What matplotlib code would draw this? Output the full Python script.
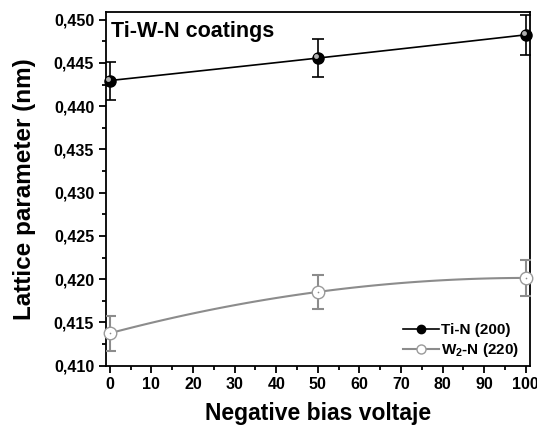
import numpy as np
import matplotlib
matplotlib.use('Agg')
import matplotlib.pyplot as plt
import matplotlib.transforms as mtransforms
from matplotlib.ticker import MultipleLocator, FuncFormatter
from matplotlib.lines import Line2D
from matplotlib.legend_handler import HandlerTuple

plt.rcParams['font.family'] = ['Liberation Sans', 'DejaVu Sans']
plt.rcParams['font.weight'] = 'bold'
plt.rcParams['mathtext.fontset'] = 'custom'
plt.rcParams['mathtext.rm'] = 'Liberation Sans:bold'
plt.rcParams['mathtext.bf'] = 'Liberation Sans:bold'
plt.rcParams['mathtext.it'] = 'Liberation Sans:bold'

# data
bias = [0, 50, 100]
tin = [0.44297, 0.44557, 0.44826]
tin_err = [0.0022, 0.0022, 0.0023]
w2n = [0.41374, 0.41852, 0.42014]
w2n_err = [0.0020, 0.0020, 0.0021]
labels = ['Ti-N (200)', r'W$_{2}$-N (220)']

fig = plt.figure(figsize=(5.37, 4.25), dpi=100)
ax = fig.add_axes([0.1974, 0.1398, 0.7896, 0.832])

# smooth guide lines through the three points
xs = np.linspace(0, 100, 100)
ax.plot(xs, np.polyval(np.polyfit(bias, tin, 2), xs), color='black', lw=1.2, zorder=2)
ax.plot(xs, np.polyval(np.polyfit(bias, w2n, 2), xs), color='#8c8c8c', lw=1.5, zorder=2)

ax.errorbar(bias, tin, yerr=tin_err, fmt='none', ecolor='black', elinewidth=1.2,
            capsize=4, capthick=1.2, zorder=3)
ax.errorbar(bias, w2n, yerr=w2n_err, fmt='none', ecolor='#8c8c8c', elinewidth=1.5,
            capsize=4, capthick=1.5, zorder=3)

# shaded sphere for Ti-N
ax.plot(bias, tin, 'o', ms=8, mfc='black', mec='black', zorder=4, clip_on=False)
hl = mtransforms.offset_copy(ax.transData, fig=fig, x=-1.2, y=1.2, units='points')
ax.plot(bias, tin, 'o', ms=3.5, mfc='#b0b0b0', mec='none', transform=hl, zorder=5, clip_on=False)
# open circles for W2-N
ax.plot(bias, w2n, 'o', ms=9, mfc='white', mec='#9a9a9a', mew=1.0, zorder=4, clip_on=False)
ax.plot(bias, w2n, 'o', ms=1.2, mfc='#8c8c8c', mec='none', zorder=5, clip_on=False)

ax.set_xlim(-0.9, 101)
ax.set_ylim(0.410, 0.4509)

ax.xaxis.set_major_locator(MultipleLocator(10))
ax.xaxis.set_minor_locator(MultipleLocator(5))
ax.yaxis.set_major_locator(MultipleLocator(0.005))
ax.yaxis.set_minor_locator(MultipleLocator(0.0025))
ax.yaxis.set_major_formatter(FuncFormatter(lambda v, p: ('%.3f' % v).replace('.', ',')))
ax.tick_params(which='both', direction='out', width=1.3, labelsize=11.5, top=False, right=False)
ax.tick_params(which='major', length=5)
ax.tick_params(which='minor', length=3)
for lab in ax.get_xticklabels() + ax.get_yticklabels():
    lab.set_fontweight('bold')
for s in ax.spines.values():
    s.set_linewidth(1.3)

ax.set_xlabel('Negative bias voltaje', fontsize=16.5, fontweight='bold', labelpad=7)
ax.set_ylabel('Lattice parameter (nm)', fontsize=17.5, fontweight='bold', labelpad=13)
ax.text(0.012, 0.975, 'Ti-W-N coatings', transform=ax.transAxes, fontsize=15.5,
        fontweight='bold', va='top', ha='left')

h1 = (Line2D([], [], color='black', lw=1.2),
      Line2D([], [], ls='none', marker='o', ms=6, mfc='black', mec='black'))
h2 = (Line2D([], [], color='#8c8c8c', lw=1.5),
      Line2D([], [], ls='none', marker='o', ms=6.5, mfc='white', mec='#9a9a9a'))
ax.legend([h1, h2], labels, handler_map={tuple: HandlerTuple(ndivide=1, pad=0)},
          loc='lower right', bbox_to_anchor=(0.988, 0.0), frameon=False, handlelength=2.4,
          handletextpad=0.1, labelspacing=0.3, borderaxespad=0.0,
          prop={'weight': 'bold', 'size': 11})

fig.savefig('out.png', dpi=100)
